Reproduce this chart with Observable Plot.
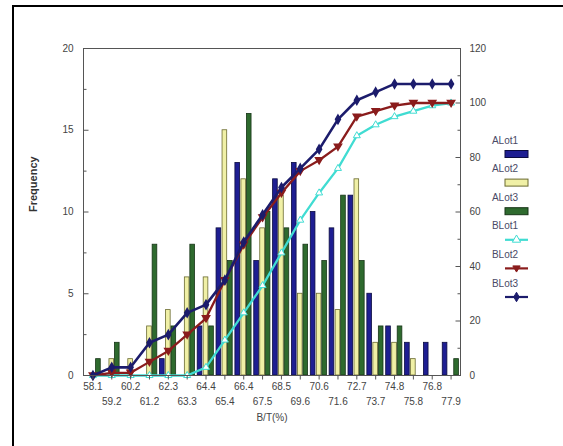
<!DOCTYPE html>
<html>
<head>
<meta charset="utf-8">
<script src="https://cdn.jsdelivr.net/npm/d3@7"></script>
<script src="https://cdn.jsdelivr.net/npm/@observablehq/plot@0.6"></script>
<style>
  html, body { margin: 0; padding: 0; background: #fff; }
  #wrap { position: relative; width: 563px; height: 446px; overflow: hidden; }
  #wrap svg { position: absolute; left: 0; top: 0; }
  #border { position: absolute; left: 12px; top: 5px; width: 600px; height: 500px;
            border-left: 2px solid #000; border-top: 2px solid #000; pointer-events: none; }
</style>
</head>
<body>
<div id="wrap"><div id="border"></div></div>
<script>
const categories = ["58.1","59.2","60.2","61.2","62.3","63.3","64.4","65.4","66.4","67.5",
                    "68.5","69.6","70.6","71.6","72.7","73.7","74.8","75.8","76.8","77.9"];
// Frequency (left axis)
const alot1 = [0,0,0,0,1,0,3,9,13,7,12,13,10,9,11,5,3,2,2,2];
const alot2 = [0,1,1,3,4,6,6,15,12,9,11,5,5,4,12,2,2,1,0,0];
const alot3 = [1,2,0,8,3,8,3,7,16,10,9,8,7,11,7,3,3,0,0,1];
// Cumulative (right axis, 0-120)
const blot1 = [0,0,0,0,0,0,3,13,23,33,45,57,67,76,88,92,95,97,99,100];
const blot2 = [0,1,1,5,9,15,21,35,48,58,67,75,79,84,95,97,99,100,100,100];
const blot3 = [0,3,3,12,15,23,26,35,49,59,69,76,83,94,101,104,107,107,107,107];

const leftTicks = [0,5,10,15,20];
const leftMinor = [2.5,7.5,12.5,17.5];
const rightTicks = [0,20,40,60,80,100,120];
const rightMinor = [10,30,50,70,90,110];
const ratio = 6; // right axis max 120 vs left max 20

const rows = categories.map((c, i) => ({i, c, a1: alot1[i], a2: alot2[i], a3: alot3[i],
  b1: blot1[i] / ratio, b2: blot2[i] / ratio, b3: blot3[i] / ratio}));

const colors = {
  a1: "#1e1e92", a1s: "#0b0b40",
  a2: "#f0f0a6", a2s: "#6a6a30",
  a3: "#2e6a2e", a3s: "#173517",
  b1: "#40dcd2", b2: "#8a1c1c", b3: "#1c1c6c"
};

const triangleDown = {
  draw(context, size) {
    const h = Math.sqrt(size) * 0.9;
    context.moveTo(0, h * 0.8);
    context.lineTo(h * 0.8, -h * 0.55);
    context.lineTo(-h * 0.8, -h * 0.55);
    context.closePath();
  }
};
// tick-shaped symbols (fixed pixel length)
const hTick = (from, to) => ({ draw(ctx) { ctx.moveTo(from, 0); ctx.lineTo(to, 0); } });
const vTick = (from, to) => ({ draw(ctx) { ctx.moveTo(0, from); ctx.lineTo(0, to); } });

const font = "Liberation Sans, Arial, sans-serif";
const bw = {insetLeft: 7.1, insetRight: 7.1};
const tickStyle = {fill: "none", stroke: "#555", strokeWidth: 1, r: 3};

const chart = Plot.plot({
  width: 563, height: 446,
  marginLeft: 83, marginRight: 103, marginTop: 48, marginBottom: 71,
  style: {fontFamily: font, fontSize: "10px", color: "#444", background: "transparent"},
  x: {type: "linear", domain: [-0.5, 19.5], axis: null},
  y: {domain: [0, 20], axis: null},
  marks: [
    // bars
    Plot.rectY(rows, {x1: d => d.i - 0.5, x2: d => d.i + 0.5, y: "a1", ...bw, dx: -6,
      fill: colors.a1, stroke: colors.a1s, strokeWidth: 0.8}),
    Plot.rectY(rows, {x1: d => d.i - 0.5, x2: d => d.i + 0.5, y: "a2", ...bw, dx: 0,
      fill: colors.a2, stroke: colors.a2s, strokeWidth: 0.8}),
    Plot.rectY(rows, {x1: d => d.i - 0.5, x2: d => d.i + 0.5, y: "a3", ...bw, dx: 5.5,
      fill: colors.a3, stroke: colors.a3s, strokeWidth: 0.8}),
    // cumulative lines
    Plot.line(rows, {x: "i", y: "b1", stroke: colors.b1, strokeWidth: 2.3}),
    Plot.dot(rows, {x: "i", y: "b1", symbol: "triangle", r: 2.6, stroke: colors.b1, fill: "white", strokeWidth: 1}),
    Plot.line(rows, {x: "i", y: "b2", stroke: colors.b2, strokeWidth: 2.3}),
    Plot.dot(rows, {x: "i", y: "b2", symbol: triangleDown, r: 2.8, fill: colors.b2, stroke: colors.b2}),
    Plot.line(rows, {x: "i", y: "b3", stroke: colors.b3, strokeWidth: 2.6}),
    Plot.dot(rows, {x: "i", y: "b3", symbol: "diamond", r: 2.6, fill: colors.b3, stroke: colors.b3}),
    // frame
    Plot.frame({stroke: "#555", strokeWidth: 1}),
    // left axis ticks (inward) and labels
    Plot.dot(leftTicks, {y: d => d, frameAnchor: "left", symbol: hTick(0, 5), ...tickStyle}),
    Plot.dot(leftMinor, {y: d => d, frameAnchor: "left", symbol: hTick(0, 3), ...tickStyle}),
    Plot.text(leftTicks, {y: d => d, frameAnchor: "left", dx: -10, textAnchor: "end", text: d => String(d), fill: "#444"}),
    // right axis ticks (inward) and labels
    Plot.dot(rightTicks, {y: d => d / ratio, frameAnchor: "right", symbol: hTick(-5, 0), ...tickStyle}),
    Plot.dot(rightMinor, {y: d => d / ratio, frameAnchor: "right", symbol: hTick(-3, 0), ...tickStyle}),
    Plot.text(rightTicks, {y: d => d / ratio, frameAnchor: "right", dx: 9, textAnchor: "start", text: d => String(d), fill: "#444"}),
    // bottom ticks and staggered labels
    Plot.dot(rows, {x: "i", frameAnchor: "bottom", symbol: vTick(0, 4), ...tickStyle}),
    Plot.text(rows.filter(d => d.i % 2 === 0), {x: "i", frameAnchor: "bottom", dy: 14, text: "c", fill: "#444"}),
    Plot.text(rows.filter(d => d.i % 2 === 1), {x: "i", frameAnchor: "bottom", dy: 29, text: "c", fill: "#444"}),
    // axis titles
    Plot.text(["B/T(%)"], {frameAnchor: "bottom", dy: 45, fill: "#444", fontSize: 10}),
    Plot.text(["Frequency"], {frameAnchor: "left", dx: -50, rotate: -90, fill: "#333", fontSize: 11, fontWeight: "bold"})
  ]
});

document.getElementById("wrap").prepend(chart);
const svg = d3.select(chart);

// legend
const legendItems = [
  {label: "ALot1", type: "bar", fill: colors.a1, stroke: colors.a1s},
  {label: "ALot2", type: "bar", fill: colors.a2, stroke: colors.a2s},
  {label: "ALot3", type: "bar", fill: colors.a3, stroke: colors.a3s},
  {label: "BLot1", type: "line", stroke: colors.b1, sym: "tri"},
  {label: "BLot2", type: "line", stroke: colors.b2, sym: "tridown"},
  {label: "BLot3", type: "line", stroke: colors.b3, sym: "diamond"}
];
const lg = svg.append("g").attr("font-family", font).attr("font-size", 10);
legendItems.forEach((it, k) => {
  const y0 = 140 + k * 28.6;
  lg.append("text").attr("x", 505).attr("y", y0).attr("dy", "0.35em").attr("fill", "#4a4a66").text(it.label);
  const ys = y0 + 14;
  if (it.type === "bar") {
    lg.append("rect").attr("x", 505).attr("y", ys - 3.5).attr("width", 23).attr("height", 7)
      .attr("fill", it.fill).attr("stroke", it.stroke).attr("stroke-width", 1);
  } else {
    lg.append("line").attr("x1", 505).attr("x2", 528).attr("y1", ys).attr("y2", ys)
      .attr("stroke", it.stroke).attr("stroke-width", 2.2);
    let path;
    if (it.sym === "tri") path = d3.symbol(d3.symbolTriangle, 30)();
    else if (it.sym === "diamond") path = d3.symbol(d3.symbolDiamond, 26)();
    else path = d3.symbol(triangleDown, 26)();
    lg.append("path").attr("d", path).attr("transform", `translate(516.5,${ys})`)
      .attr("fill", it.sym === "tri" ? "white" : it.stroke).attr("stroke", it.stroke).attr("stroke-width", 1);
  }
});
</script>
</body>
</html>
